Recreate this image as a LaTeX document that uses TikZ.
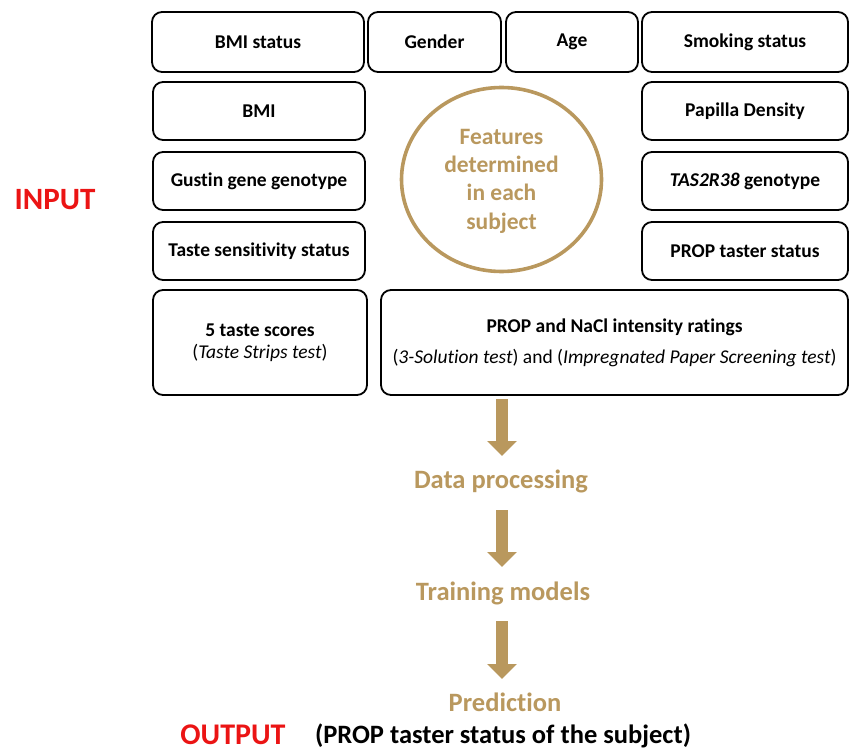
\documentclass[tikz,border=0pt]{standalone}
\usepackage{fontspec}
\setmainfont{Carlito}[Ligatures=NoCommon]
\usetikzlibrary{arrows.meta,shapes.geometric}
\definecolor{gold}{RGB}{185,152,94}
\definecolor{inred}{RGB}{235,20,20}
\newcommand{\nolig}{\kern0pt{}}
\begin{document}
\begin{tikzpicture}[x=1pt,y=-1pt,
 box/.style={draw=black, line width=1.8pt, rounded corners=10pt, align=center, inner sep=0pt, font=\fontsize{19.5}{22}\selectfont\bfseries},
 flow/.style={text=gold, font=\fontsize{26.5}{30}\selectfont\bfseries, inner sep=0pt},
 bigarrow/.style={draw=gold, line width=12.5pt, -{Triangle[width=29pt,length=15pt]}},
 redlabel/.style={text=inred, font=\fontsize{31}{34}\selectfont\bfseries, inner sep=0pt}]
\useasboundingbox (0,0) rectangle (851,751);
% row 1
\node[box, minimum width=212pt, minimum height=60pt] (bmistat) at (258,42) {BMI status};
\node[box, minimum width=133pt, minimum height=60pt] (gender) at (434.5,42) {Gender};
\node[box, minimum width=132pt, minimum height=60pt] (age) at (572,42) {Age};
\node[box, minimum width=206pt, minimum height=60pt] (smoke) at (745,42) {Smoking status};
% left column
\node[box, minimum width=212pt, minimum height=58pt] (bmi) at (259,111) {BMI};
\node[box, minimum width=212pt, minimum height=58pt] (gustin) at (259,181) {Gust\nolig in gene genotype};
\node[box, minimum width=212pt, minimum height=58pt] (taste) at (259,251) {Taste sensit\nolig ivit\nolig y status};
% right column
\node[box, minimum width=206pt, minimum height=58pt] (papilla) at (745,111) {Papilla Density};
\node[box, minimum width=206pt, minimum height=58pt] (tas) at (745,181) {\textit{TAS2R38} genotype};
\node[box, minimum width=206pt, minimum height=58pt] (prop) at (745,251) {PROP taster status};
% bottom row
\node[box, minimum width=214pt, minimum height=105pt] (scores) at (260,342.5) {5 taste scores\\\mdseries(\textit{Taste Strips test})};
\node[box, minimum width=467pt, minimum height=105pt] (nacl) at (614.5,342.5) {PROP and NaCl intensity ratings\\[9pt]\mdseries(\textit{3-Solut\nolig ion test}) and (\textit{Impregnated Paper Screening test})};
% circle
\node[draw=gold, line width=3.6pt, ellipse, minimum width=200pt, minimum height=184pt, inner sep=0pt] (circ) at (501.5,179.5) {};
\node[text=gold, align=center, font=\fontsize{23.5}{28.3}\selectfont\bfseries] (feat) at (501.5,181) {Features\\determined\\in each\\subject};
% labels
\node[redlabel] (input) at (55,200) {INPUT};
% flow
\coordinate (a1s) at (502,399);
\coordinate (a1e) at (502,456);
\node[flow] (dp) at (501,481) {Data processing};
\coordinate (a2s) at (502,510);
\coordinate (a2e) at (502,567);
\node[flow] (tm) at (503,593) {Training models};
\coordinate (a3s) at (502,621);
\coordinate (a3e) at (502,679);
\node[flow] (pred) at (505,702) {Predict\nolig ion};
\draw[bigarrow] (a1s) -- (a1e);
\draw[bigarrow] (a2s) -- (a2e);
\draw[bigarrow] (a3s) -- (a3e);
\node[redlabel, font=\fontsize{30}{34}\selectfont\bfseries] (output) at (233,735) {OUTPUT};
\node[font=\fontsize{26.5}{30}\selectfont\bfseries, inner sep=0pt] (outtext) at (503,736) {(PROP taster status of the subject)};
\end{tikzpicture}
\end{document}
